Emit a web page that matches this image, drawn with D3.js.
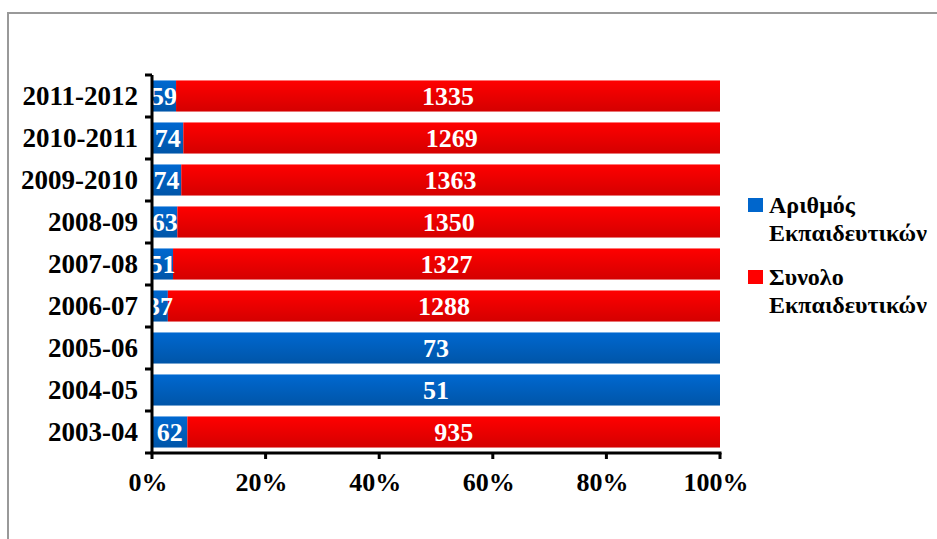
<!DOCTYPE html>
<html>
<head>
<meta charset="utf-8">
<script src="https://cdn.jsdelivr.net/npm/d3@7"></script>
<style>
  html, body { margin: 0; padding: 0; background: #fff; }
  svg { display: block; font-family: "Liberation Serif", "Times New Roman", serif; font-weight: bold; }
</style>
</head>
<body>
<svg id="chart" width="937" height="539"></svg>
<script>
const categories = ["2003-04","2004-05","2005-06","2006-07","2007-08","2008-09","2009-2010","2010-2011","2011-2012"];
const seriesNames = ["Αριθμός Εκπαιδευτικών", "Συνολο Εκπαιδευτικών"];
const arithmos = [62, 51, 73, 37, 51, 63, 74, 74, 59];
const synolo = [935, null, null, 1288, 1327, 1350, 1363, 1269, 1335];
const xTicks = [0, 0.2, 0.4, 0.6, 0.8, 1.0];
const xTickLabels = ["0%", "20%", "40%", "60%", "80%", "100%"];

const svg = d3.select("#chart");

// Outer frame (partially visible)
svg.append("path")
  .attr("d", "M8,539 L8,13 L937,13")
  .attr("fill", "none").attr("stroke", "#999").attr("stroke-width", 2);

const defs = svg.append("defs");
function grad(id, top, bottom) {
  const g = defs.append("linearGradient").attr("id", id)
    .attr("x1", 0).attr("y1", 0).attr("x2", 0).attr("y2", 1);
  g.append("stop").attr("offset", "0%").attr("stop-color", top);
  g.append("stop").attr("offset", "100%").attr("stop-color", bottom);
}
grad("gBlue", "#0068D0", "#0055A8");
grad("gRed", "#FF0000", "#D40000");

const x0 = 152, x1 = 720, yTop = 75, yBot = 453;
const x = d3.scaleLinear().domain([0, 1]).range([x0, x1]);
const y = d3.scaleBand().domain(categories.slice().reverse()).range([yTop, yBot])
  .paddingInner(0.26).paddingOuter(0.13);

const rows = categories.map((c, i) => {
  const a = arithmos[i] || 0, s = synolo[i] || 0, t = a + s;
  return { c, a, s, t, hasS: synolo[i] != null };
});

const g = svg.append("g");
rows.forEach(r => {
  const yy = y(r.c), h = y.bandwidth();
  const fa = r.a / r.t;
  g.append("rect").attr("x", x(0)).attr("y", yy).attr("width", x(fa) - x(0)).attr("height", h)
    .attr("fill", "url(#gBlue)");
  if (r.hasS) {
    g.append("rect").attr("x", x(fa)).attr("y", yy).attr("width", x(1) - x(fa)).attr("height", h)
      .attr("fill", "url(#gRed)");
  }
});

// labels
rows.forEach(r => {
  const yy = y(r.c) + y.bandwidth() / 2;
  const fa = r.a / r.t;
  g.append("text").attr("x", (x(0) + x(fa)) / 2).attr("y", yy).attr("dy", "0.35em")
    .attr("text-anchor", "middle").attr("fill", "#fff").attr("font-size", 26).text(r.a);
  if (r.hasS) {
    g.append("text").attr("x", (x(fa) + x(1)) / 2).attr("y", yy).attr("dy", "0.35em")
      .attr("text-anchor", "middle").attr("fill", "#fff").attr("font-size", 26).text(r.s);
  }
});

// Y axis
const yAxisG = svg.append("g");
yAxisG.append("line").attr("x1", x0).attr("x2", x0).attr("y1", yTop).attr("y2", yBot + 1)
  .attr("stroke", "#000").attr("stroke-width", 3);
d3.range(categories.length + 1).forEach(i => {
  const ty = yTop + i * (yBot - yTop) / categories.length;
  yAxisG.append("line").attr("x1", x0 - 7).attr("x2", x0).attr("y1", ty).attr("y2", ty)
    .attr("stroke", "#000").attr("stroke-width", 3);
});
categories.forEach(c => {
  yAxisG.append("text").attr("x", 138).attr("y", y(c) + y.bandwidth() / 2).attr("dy", "0.35em")
    .attr("text-anchor", "end").attr("font-size", 27).attr("fill", "#000").text(c);
});

// X axis
const xAxisG = svg.append("g");
xAxisG.append("line").attr("x1", x0 - 1.5).attr("x2", x1 + 1.5).attr("y1", yBot).attr("y2", yBot)
  .attr("stroke", "#000").attr("stroke-width", 3);
xTicks.forEach((t, i) => {
  xAxisG.append("line").attr("x1", x(t)).attr("x2", x(t)).attr("y1", yBot).attr("y2", yBot + 6)
    .attr("stroke", "#000").attr("stroke-width", 3);
  xAxisG.append("text").attr("x", x(t) - 4).attr("y", 491)
    .attr("text-anchor", "middle").attr("font-size", 26).attr("fill", "#000").text(xTickLabels[i]);
});

// Legend
const legend = svg.append("g");
const legItems = [
  { color: "#0066CC", lines: ["Αριθμός", "Εκπαιδευτικών"], y: 198 },
  { color: "#FF0000", lines: ["Συνολο", "Εκπαιδευτικών"], y: 270 }
];
legItems.forEach(it => {
  legend.append("rect").attr("x", 748).attr("y", it.y).attr("width", 15).attr("height", 14).attr("fill", it.color);
  it.lines.forEach((l, j) => {
    legend.append("text").attr("x", 769).attr("y", it.y + 15 + j * 28)
      .attr("font-family", "'Liberation Serif', 'DejaVu Serif', serif")
      .attr("font-weight", "bold")
      .attr("font-size", 24).attr("fill", "#000").text(l);
  });
});
</script>
</body>
</html>
